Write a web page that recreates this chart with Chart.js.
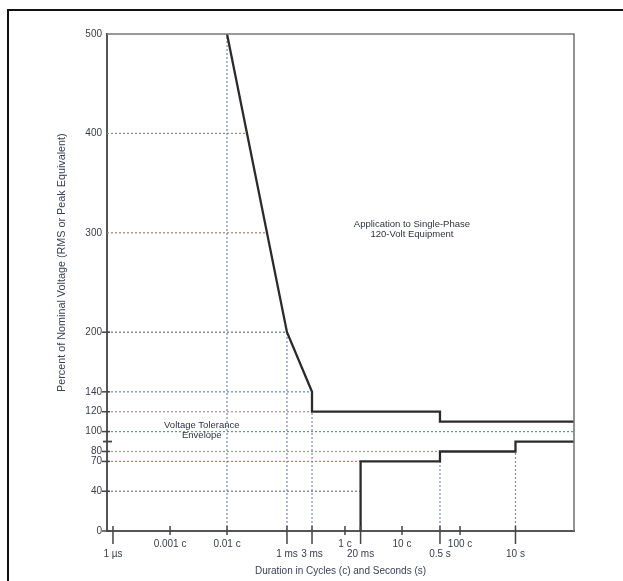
<!DOCTYPE html>
<html><head><meta charset="utf-8">
<script src="https://cdn.jsdelivr.net/npm/chart.js@4.4.1/dist/chart.umd.min.js"></script>
<style>
html,body{margin:0;padding:0;background:#fff;}
#wrap{position:relative;width:623px;height:581px;overflow:hidden;background:#fff;}
#frame{position:absolute;left:7px;top:9px;width:700px;height:700px;border-top:2.5px solid #111;border-left:2.5px solid #111;box-sizing:border-box;pointer-events:none;}
canvas{position:absolute;left:0;top:0;}
</style></head><body>
<div id="wrap"><canvas id="c" width="623" height="581"></canvas><div id="frame"></div></div>
<script>
// ---------- data ----------
// x-axis tick durations (seconds) and their two label rows
const tickSeconds  = [1e-6, 1.667e-5, 1.667e-4, 0.001, 0.003, 0.01667, 0.02, 0.1667, 0.5, 1.667, 10];
const cycleLabels  = ['', '0.001 c', '0.01 c', '', '', '1 c', '', '10 c', '', '100 c', ''];
const secondLabels = ['1 µs', '', '', '1 ms', '3 ms', '', '20 ms', '', '0.5 s', '', '10 s'];
const yTickValues  = [0, 40, 70, 80, 100, 120, 140, 200, 300, 400, 500];
const axisBreakAt  = 90;

const xMin = 0.9e-6, xMax = 100;

// upper (overvoltage) boundary
const upperSec = [1.667e-4, 0.001, 0.003, 0.003, 0.5, 0.5, 100];
const upperPct = [500, 200, 140, 120, 120, 110, 110];
// lower (undervoltage) boundary
const lowerSec = [0.02, 0.02, 0.5, 0.5, 10, 10, 100];
const lowerPct = [0, 70, 70, 80, 80, 90, 90];

// dotted horizontal guide lines: level and where they end (seconds)
const hLevels = [400, 300, 200, 140, 120, 100, 80, 70, 40];
const hEnds   = [3.0e-4, 5.5e-4, 0.001, 0.003, 0.003, 100, 0.5, 0.02, 0.02];
// dotted vertical guide lines: duration and top level
const vSeconds = [1.667e-4, 0.001, 0.003, 0.5, 10];
const vTops    = [500, 200, 140, 70, 80];

// ---------- schematic (non-uniform) duration axis ----------
// fraction of axis width at which each tick duration sits in the original drawing
const AXIS_FRACTIONS = [0.0128, 0.135, 0.257, 0.3854, 0.439, 0.5096, 0.543, 0.6317, 0.713, 0.756, 0.8747];
const ANCHORS = [[xMin, 0]].concat(tickSeconds.map((s, i) => [s, AXIS_FRACTIONS[i]])).concat([[xMax, 1]]);

class SchematicScale extends Chart.LinearScale {
  determineDataLimits() { this.min = xMin; this.max = xMax; }
  buildTicks() { return tickSeconds.map(v => ({ value: v })); }
  _frac(value) {
    const a = ANCHORS, lv = Math.log10(value);
    if (lv <= Math.log10(a[0][0])) return a[0][1];
    for (let i = 0; i < a.length - 1; i++) {
      const l0 = Math.log10(a[i][0]), l1 = Math.log10(a[i + 1][0]);
      if (lv <= l1) return a[i][1] + (lv - l0) / (l1 - l0) * (a[i + 1][1] - a[i][1]);
    }
    return 1;
  }
  getPixelForValue(value) { return this.getPixelForDecimal(this._frac(value)); }
  getValueForPixel(pixel) {
    const f = this.getDecimalForPixel(pixel), a = ANCHORS;
    for (let i = 0; i < a.length - 1; i++) {
      if (f <= a[i + 1][1]) {
        const l0 = Math.log10(a[i][0]), l1 = Math.log10(a[i + 1][0]);
        return Math.pow(10, l0 + (f - a[i][1]) / (a[i + 1][1] - a[i][1]) * (l1 - l0));
      }
    }
    return xMax;
  }
}
SchematicScale.id = 'schematic';
SchematicScale.defaults = Chart.LinearScale.defaults;
Chart.register(SchematicScale);

// ---------- datasets ----------
const pts = (xs, ys) => xs.map((x, i) => ({ x, y: ys[i] }));
const hColors = ['#7c9a7c', '#b08070', '#6a6f85', '#4f8fd8', '#b88a8a', '#5aa070', '#88aa78', '#c47a6a', '#6a7898'];
const vColor = '#7c88b8';

const datasets = [
  { data: pts(upperSec, upperPct), borderColor: '#2b2b2b', borderWidth: 2.3 },
  { data: pts(lowerSec, lowerPct), borderColor: '#2b2b2b', borderWidth: 2.3 }
];
hLevels.forEach((lv, i) => datasets.push({
  data: [{ x: xMin, y: lv }, { x: hEnds[i], y: lv }],
  borderColor: hColors[i], borderWidth: 1.2, borderDash: [2, 2]
}));
vSeconds.forEach((s, i) => datasets.push({
  data: [{ x: s, y: 0 }, { x: s, y: vTops[i] }],
  borderColor: vColor, borderWidth: 1.2, borderDash: [2, 2]
}));
datasets.forEach(d => { d.pointRadius = 0; d.fill = false; d.tension = 0; });

const FAMILY = '"Liberation Sans", Arial, sans-serif';

// ---------- decorations ----------
const decor = {
  id: 'decor',
  afterDraw(chart) {
    const { ctx, chartArea: ca, scales: { x, y } } = chart;
    ctx.save();
    // top and right frame of plot
    ctx.strokeStyle = '#7a7a7a'; ctx.lineWidth = 1.6;
    ctx.beginPath();
    ctx.moveTo(ca.left, ca.top); ctx.lineTo(ca.right, ca.top); ctx.lineTo(ca.right, ca.bottom);
    ctx.stroke();
    // x tick marks
    ctx.strokeStyle = '#444'; ctx.lineWidth = 1.5;
    x.ticks.forEach((t, i) => {
      const px = x.getPixelForTick(i);
      const long = secondLabels[i] !== '';
      ctx.beginPath();
      ctx.moveTo(px, ca.bottom - 5);
      ctx.lineTo(px, ca.bottom + (long ? 13 : 4));
      ctx.stroke();
    });
    // y tick marks
    y.ticks.forEach(t => {
      if (t.value >= 300) return;
      const py = y.getPixelForValue(t.value);
      ctx.beginPath(); ctx.moveTo(ca.left - 5, py); ctx.lineTo(ca.left + 3, py); ctx.stroke();
    });
    // axis break mark
    const pb = y.getPixelForValue(axisBreakAt);
    ctx.lineWidth = 1.8;
    ctx.beginPath(); ctx.moveTo(ca.left - 4, pb); ctx.lineTo(ca.left + 5, pb); ctx.stroke();
    // annotations
    ctx.fillStyle = '#2f3340';
    ctx.font = '9.5px ' + FAMILY;
    ctx.textAlign = 'center'; ctx.textBaseline = 'middle';
    const ax = ca.left + 0.653 * ca.width;
    ctx.fillText('Application to Single-Phase', ax, y.getPixelForValue(308));
    ctx.fillText('120-Volt Equipment', ax, y.getPixelForValue(298));
    const bx = ca.left + 0.203 * ca.width;
    ctx.fillText('Voltage Tolerance', bx, y.getPixelForValue(106));
    ctx.fillText('Envelope', bx, y.getPixelForValue(96));
    // y-axis title (rotated)
    ctx.fillStyle = '#3a4058';
    ctx.font = '10.8px ' + FAMILY;
    ctx.translate(62, y.getPixelForValue(270));
    ctx.rotate(-Math.PI / 2);
    ctx.fillText('Percent of Nominal Voltage (RMS or Peak Equivalent)', 0, 0);
    ctx.restore();
  }
};

const font = { family: FAMILY, size: 10 };

new Chart(document.getElementById('c'), {
  type: 'line',
  data: { datasets },
  options: {
    responsive: false, animation: false, events: [],
    layout: { padding: { left: 0, top: 34, right: 49, bottom: 0 } },
    plugins: { legend: { display: false }, tooltip: { enabled: false } },
    scales: {
      x: {
        type: 'schematic',
        grid: { display: false, drawTicks: false },
        border: { display: true, color: '#555', width: 2 },
        ticks: {
          autoSkip: false, maxRotation: 0, padding: 8,
          color: '#3a3d48', font: { ...font, lineHeight: 1.0 },
          callback: (v, i) => [cycleLabels[i], secondLabels[i]]
        },
        title: { display: true, text: 'Duration in Cycles (c) and Seconds (s)', color: '#3a3f55', font, padding: { top: 0, bottom: 4 } },
        afterFit: s => { s.height = 50; }
      },
      y: {
        type: 'linear', min: 0, max: 500,
        grid: { display: false, drawTicks: false },
        border: { display: true, color: '#555', width: 2 },
        ticks: { padding: 5, color: '#3a3d48', font },
        afterBuildTicks: s => { s.ticks = yTickValues.map(v => ({ value: v })); },
        title: { display: false },
        afterFit: s => { s.width = 107; }
      }
    }
  },
  plugins: [decor]
});
</script>
</body></html>
